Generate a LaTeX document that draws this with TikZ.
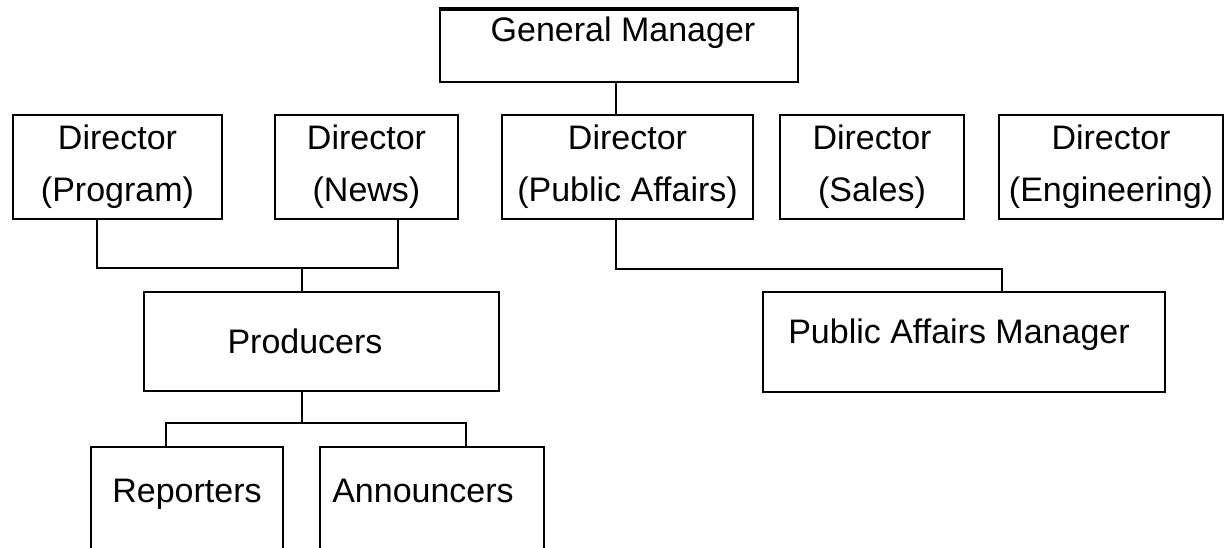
\documentclass[tikz,border=0pt]{standalone}
\usepackage{fontspec}
\setmainfont{Liberation Sans}
\begin{document}
\begin{tikzpicture}[x=1pt,y=-1pt,
  box/.style={draw=black, line width=2pt, rectangle, inner sep=0pt, fill=white},
  txt/.style={inner sep=0pt, font=\fontsize{34}{52}\selectfont},
  dirbox/.style={box, align=center, minimum height=104pt, font=\fontsize{34}{52}\selectfont},
  link/.style={draw=black, line width=2pt}]
\useasboundingbox (0,0) rectangle (1224,548);
\clip (0,0) rectangle (1224,548);
\fill[white] (0,0) rectangle (1224,548);

% top level
\node[box, minimum width=358pt, minimum height=72pt] (gm) at (619,46) {};
\node[txt, anchor=base] (gmtext) at (623,42) {General Manager};
\draw[line width=4pt] (gm.north west) -- (gm.north east);

% directors
\node[dirbox, minimum width=209pt] (dprog)  at (117.5,167) {Director\\(Program)};
\node[dirbox, minimum width=183pt] (dnews)  at (366.5,167) {Director\\(News)};
\node[dirbox, minimum width=251pt] (dpa)    at (627.5,167) {Director\\(Public Affairs)};
\node[dirbox, minimum width=184pt] (dsales) at (872,167)   {Director\\(Sales)};
\node[dirbox, minimum width=224pt] (deng)   at (1111,167)  {Director\\(Engineering)};

% second level
\node[box, minimum width=355pt, minimum height=99pt] (prod) at (321.5,341.5) {};
\node[txt, anchor=base] (prodtext) at (305,353) {Producers};
\node[box, minimum width=402pt, minimum height=100pt] (pam) at (964,342) {};
\node[txt, anchor=base] (pamtext) at (959,343) {Public Affairs Manager};

% third level
\node[box, minimum width=192pt, minimum height=133pt] (rep) at (187,513.5) {};
\node[txt, anchor=base] (reptext) at (187,502) {Reporters};
\node[box, minimum width=224pt, minimum height=133pt] (ann) at (432,513.5) {};
\node[txt, anchor=base] (anntext) at (423,502) {Announcers};

% connectors
\draw[link] ([xshift=-3pt]gm.south) -- ([xshift=-11.5pt]dpa.north);
\draw[link] ([xshift=-20.5pt]dprog.south) -- ++(0,48) -| ([xshift=31.5pt]dnews.south);
\draw[link] ([xshift=-19.5pt]prod.north) -- ++(0,-23);
\draw[link] ([xshift=-11.5pt]dpa.south) -- ++(0,49) -| ([xshift=38pt]pam.north);
\draw[link] ([xshift=-19.5pt]prod.south) -- ++(0,31);
\draw[link] ([xshift=-21pt]rep.north) -- ++(0,-23) -| ([xshift=34pt]ann.north);
\end{tikzpicture}
\end{document}
